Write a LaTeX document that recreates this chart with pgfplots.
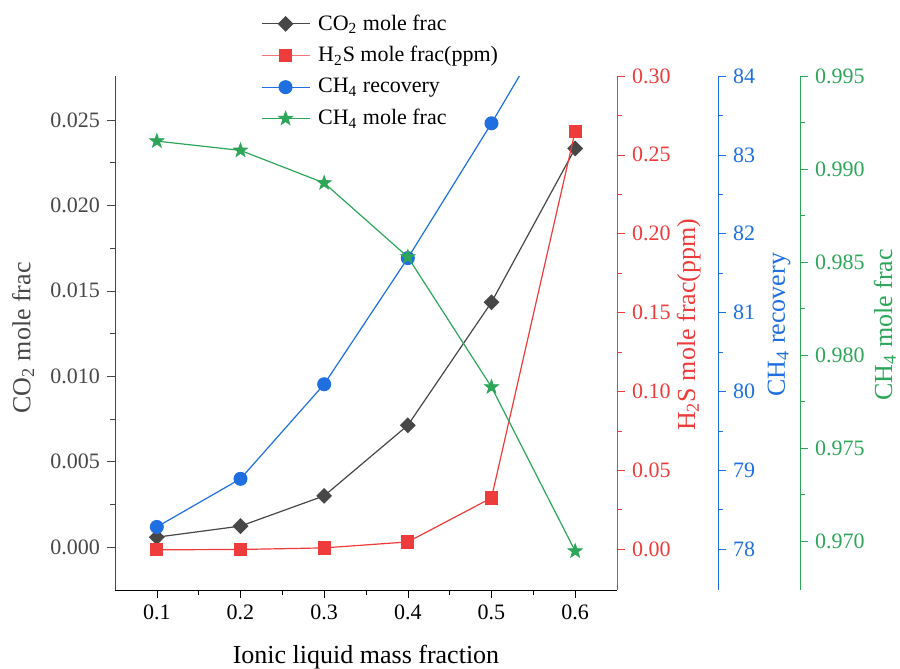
\documentclass[border=0pt]{standalone}
\usepackage{fontspec}
\setmainfont{Liberation Serif}
\usepackage{pgfplots}
\pgfplotsset{compat=1.18}
\definecolor{cgray}{HTML}{474747}
\definecolor{cred}{HTML}{EE3B3B}
\definecolor{cblue}{HTML}{1F6FE0}
\definecolor{cgreen}{HTML}{2EA65A}
\pgfdeclareplotmark{fstar}{%
  \pgfpathmoveto{\pgfpointpolar{90}{\pgfplotmarksize}}%
  \pgfpathlineto{\pgfpointpolar{126}{0.4\pgfplotmarksize}}%
  \pgfpathlineto{\pgfpointpolar{162}{\pgfplotmarksize}}%
  \pgfpathlineto{\pgfpointpolar{198}{0.4\pgfplotmarksize}}%
  \pgfpathlineto{\pgfpointpolar{234}{\pgfplotmarksize}}%
  \pgfpathlineto{\pgfpointpolar{270}{0.4\pgfplotmarksize}}%
  \pgfpathlineto{\pgfpointpolar{306}{\pgfplotmarksize}}%
  \pgfpathlineto{\pgfpointpolar{342}{0.4\pgfplotmarksize}}%
  \pgfpathlineto{\pgfpointpolar{18}{\pgfplotmarksize}}%
  \pgfpathlineto{\pgfpointpolar{54}{0.4\pgfplotmarksize}}%
  \pgfpathclose\pgfusepathqfillstroke}
\pgfplotsset{
  base/.style={
    scale only axis, width=251pt, height=257pt,
    xmin=0.05, xmax=0.65,
    tick align=outside,
    major tick length=4pt, minor tick length=2.5pt,
    /pgf/number format/assume math mode=true,
    tick label style={font=\fontsize{11}{13}\selectfont},
    scaled y ticks=false,
    clip=true,
  },
  rlabel/.style 2 args={every axis y label/.style={at={(axis description cs:#1,0.516)}, rotate=90, anchor=center, color=#2, font=\fontsize{13}{15}\selectfont}},
}
\begin{document}
\begin{tikzpicture}
% main axis: CO2
\begin{axis}[base, name=main,
  axis x line*=bottom, axis y line*=left,
  ymin=-0.00251, ymax=0.02757,
  ytick={0,0.005,0.010,0.015,0.020,0.025}, minor y tick num=1,
  xtick={0.1,0.2,0.3,0.4,0.5,0.6}, minor x tick num=1,
  x tick label style={/pgf/number format/fixed, /pgf/number format/precision=1},
  y tick label style={/pgf/number format/fixed, /pgf/number format/fixed zerofill, /pgf/number format/precision=3, color=cgray},
  x axis line style={black}, x tick style={black},
  y axis line style={cgray}, y tick style={cgray},
  xlabel={Ionic liquid mass fraction},
  ylabel={CO\textsubscript{2} mole frac},
  every axis x label/.style={at={(axis description cs:0.5,-0.1305)}, anchor=center, font=\fontsize{13}{15}\selectfont},
  every axis y label/.style={at={(axis description cs:-0.183,0.49)}, rotate=90, anchor=center, color=cgray, font=\fontsize{13}{15}\selectfont},
  legend style={at={(axis description cs:0.29,1.128)}, anchor=north west, draw=none, fill=none,
    font=\fontsize{11}{13}\selectfont, row sep=2.7pt, column sep=2pt, inner sep=0pt},
  legend cell align=left,
  legend image code/.code={\draw[mark repeat=2,mark phase=2] plot coordinates {(0pt,0pt)(12pt,0pt)(24pt,0pt)};},
]
\addplot[cgray, line width=0.6pt, mark=square*, mark size=2.5pt, mark options={rotate=45, fill=cgray, draw=cgray}]
  coordinates {(0.1,0.00058)(0.2,0.00123)(0.3,0.0030)(0.4,0.00713)(0.5,0.01433)(0.6,0.02333)};
\addlegendentry{CO\textsubscript{2} mole frac}
\addlegendimage{cred!70, line width=0.6pt, mark=square*, mark size=3pt, mark options={fill=cred, draw=cred}}
\addlegendentry{H\textsubscript{2}S mole frac(ppm)}
\addlegendimage{cblue, line width=0.6pt, mark=*, mark size=3.2pt, mark options={fill=cblue, draw=cblue}}
\addlegendentry{CH\textsubscript{4} recovery}
\addlegendimage{cgreen, line width=0.6pt, mark=fstar, mark size=3.8pt, mark options={fill=cgreen, draw=cgreen, line width=0.3pt}}
\addlegendentry{CH\textsubscript{4} mole frac}
\end{axis}
% red axis: H2S
\begin{axis}[base, hide x axis, axis y line*=right,
  ymin=-0.026, ymax=0.30,
  ytick={0,0.05,0.10,0.15,0.20,0.25,0.30}, minor y tick num=1,
  y tick label style={/pgf/number format/fixed, /pgf/number format/fixed zerofill, /pgf/number format/precision=2, color=cred},
  y axis line style={cred}, y tick style={cred},
  ylabel={H\textsubscript{2}S mole frac(ppm)},
  rlabel={1.143}{cred},
]
\addplot[cred, line width=0.6pt, mark=square*, mark size=3pt, mark options={fill=cred, draw=cred}]
  coordinates {(0.1,-0.0005)(0.2,-0.0003)(0.3,0.0007)(0.4,0.0045)(0.5,0.0324)(0.6,0.265)};
\end{axis}
% blue data
\begin{axis}[base, hide axis, ymin=77.48, ymax=84]
\addplot[cblue, line width=0.6pt, mark=*, mark size=3.2pt, mark options={fill=cblue, draw=cblue}]
  coordinates {(0.1,78.28)(0.2,78.89)(0.3,80.09)(0.4,81.69)(0.5,83.40)(0.6,85.20)};
\end{axis}
% blue axis (shifted)
\begin{axis}[base, xshift=50.5pt, hide x axis, axis y line*=right,
  ymin=77.48, ymax=84,
  ytick={78,79,80,81,82,83,84}, minor y tick num=1,
  y tick label style={color=cblue},
  y axis line style={cblue}, y tick style={cblue},
  ylabel={CH\textsubscript{4} recovery},
  rlabel={1.1215}{cblue},
]
\addplot[draw=none] coordinates {(0.3,80)};
\end{axis}
% green data
\begin{axis}[base, hide axis, ymin=0.96737, ymax=0.995]
\addplot[cgreen, line width=0.6pt, mark=fstar, mark size=3.8pt, mark options={fill=cgreen, draw=cgreen, line width=0.3pt}]
  coordinates {(0.1,0.9915)(0.2,0.9910)(0.3,0.98925)(0.4,0.98527)(0.5,0.97828)(0.6,0.96946)};
\end{axis}
% green axis (shifted)
\begin{axis}[base, xshift=91.5pt, hide x axis, axis y line*=right,
  ymin=0.96737, ymax=0.995,
  ytick={0.970,0.975,0.980,0.985,0.990,0.995}, minor y tick num=1,
  y tick label style={/pgf/number format/fixed, /pgf/number format/fixed zerofill, /pgf/number format/precision=3, color=cgreen},
  y axis line style={cgreen}, y tick style={cgreen},
  ylabel={CH\textsubscript{4} mole frac},
  rlabel={1.169}{cgreen},
]
\addplot[draw=none] coordinates {(0.3,0.98)};
\end{axis}
\pgfresetboundingbox
\path[use as bounding box] (-57.5pt,-39.5pt) rectangle (392.5pt,295pt);
\end{tikzpicture}
\end{document}
